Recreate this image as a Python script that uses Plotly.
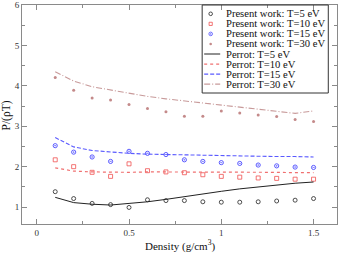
import plotly.graph_objects as go

density = [0.1, 0.2, 0.3, 0.4, 0.5, 0.6, 0.7, 0.8, 0.9, 1.0, 1.1, 1.2, 1.3, 1.4, 1.5]

present_T5 = [1.38, 1.21, 1.09, 1.06, 0.99, 1.18, 1.16, 1.16, 1.13, 1.12, 1.12, 1.13, 1.15, 1.17, 1.21]
present_T10 = [2.17, 2.00, 1.86, 1.76, 2.07, 1.90, 1.87, 1.85, 1.80, 1.76, 1.74, 1.72, 1.71, 1.69, 1.69]
present_T15 = [2.52, 2.36, 2.24, 2.13, 2.38, 2.33, 2.30, 2.17, 2.13, 2.10, 2.08, 2.04, 2.02, 1.99, 1.98]
present_T30 = [4.21, 3.89, 3.70, 3.65, 3.54, 3.44, 3.36, 3.25, 3.25, 3.38, 3.33, 3.28, 3.24, 3.17, 3.12]

perrot_T5 = [1.24, 1.11, 1.07, 1.05, 1.09, 1.13, 1.19, 1.26, 1.33, 1.39, 1.45, 1.50, 1.55, 1.59, 1.62]
perrot_T10 = [1.97, 1.89, 1.87, 1.86, 1.86, 1.87, 1.87, 1.87, 1.87, 1.87, 1.86, 1.86, 1.86, 1.85, 1.85]
perrot_T15 = [2.72, 2.49, 2.40, 2.36, 2.33, 2.31, 2.30, 2.29, 2.28, 2.28, 2.27, 2.26, 2.25, 2.25, 2.24]
perrot_T30 = [4.35, 4.12, 3.98, 3.90, 3.81, 3.74, 3.68, 3.63, 3.57, 3.52, 3.47, 3.42, 3.37, 3.32, 3.38]

x_tick_vals = [0, 0.5, 1, 1.5]
x_tick_text = ["0", "0.5", "1", "1.5"]
y_tick_vals = [1, 2, 3, 4, 5, 6]
y_tick_text = ["1", "2", "3", "4", "5", "6"]

present_names = ["Present work: T=5 eV", "Present work: T=10 eV",
                 "Present work: T=15 eV", "Present work: T=30 eV"]
perrot_names = ["Perrot: T=5 eV", "Perrot: T=10 eV", "Perrot: T=15 eV", "Perrot: T=30 eV"]

FONT = "Liberation Serif"
W, H = 338, 254
ML, MR, MT, MB = 22, 1.3, 5, 30
PW, PH = W - ML - MR, H - MT - MB

c5, c10, c15, c30 = "#222222", "#f05050", "#4a4aff", "#c48a8a"
lc10, lc15, lc30 = "#f07070", "#5a5aff", "#c89a9a"

fig = go.Figure()

present_series = [present_T5, present_T10, present_T15, present_T30]
present_styles = [
    dict(symbol="circle-open", color=c5, size=4, line=dict(width=0.8, color=c5)),
    dict(symbol="square-open", color=c10, size=4, line=dict(width=0.8, color=c10)),
    dict(symbol="circle-open-dot", color=c15, size=4.2, line=dict(width=0.9, color=c15)),
    dict(symbol="circle", color=c30, size=3, line=dict(width=0, color=c30)),
]
for vals, name, mk in zip(present_series, present_names, present_styles):
    fig.add_trace(go.Scatter(x=density, y=vals, mode="markers", name=name,
                             marker=mk, showlegend=False))

perrot_series = [perrot_T5, perrot_T10, perrot_T15, perrot_T30]
perrot_styles = [
    dict(color="#222222", width=1, dash="solid"),
    dict(color=lc10, width=1.2, dash="dot"),
    dict(color=lc15, width=1.1, dash="4px,2px"),
    dict(color=lc30, width=1.1, dash="6px,2px,1px,2px"),
]
for vals, name, ln in zip(perrot_series, perrot_names, perrot_styles):
    fig.add_trace(go.Scatter(x=density, y=vals, mode="lines", name=name,
                             line=ln, showlegend=False))

# ---- custom legend (box, samples, labels) ----
def px2x(px):
    return (px - ML) / PW

def py2y(py):
    return (MT + PH - py) / PH

shapes = []
annotations = []
bx0, bx1, by0, by1 = 202, 328, 5, 93
for (xa, ya, xb, yb) in [(bx0, by0, bx1, by0), (bx1, by0, bx1, by1),
                         (bx1, by1, bx0, by1), (bx0, by1, bx0, by0)]:
    shapes.append(dict(type="line", xref="paper", yref="paper",
                       x0=px2x(xa), y0=py2y(ya), x1=px2x(xb), y1=py2y(yb),
                       line=dict(color="#333333", width=1), layer="above"))
row_y = [13.8 + i * 10.05 for i in range(8)]
sym_x = 210.5
R = 1.8
for i, mk in enumerate(present_styles):
    yc = row_y[i]
    col = mk["color"]
    if mk["symbol"] == "square-open":
        r = 1.6
        shapes.append(dict(type="rect", xref="paper", yref="paper",
                           x0=px2x(sym_x - r), x1=px2x(sym_x + r),
                           y0=py2y(yc + r), y1=py2y(yc - r),
                           line=dict(color=col, width=0.8), layer="above"))
    elif mk["symbol"] == "circle":
        r = 1.3
        shapes.append(dict(type="circle", xref="paper", yref="paper",
                           x0=px2x(sym_x - r), x1=px2x(sym_x + r),
                           y0=py2y(yc + r), y1=py2y(yc - r),
                           line=dict(color=col, width=0), fillcolor=col, layer="above"))
    else:
        shapes.append(dict(type="circle", xref="paper", yref="paper",
                           x0=px2x(sym_x - R), x1=px2x(sym_x + R),
                           y0=py2y(yc + R), y1=py2y(yc - R),
                           line=dict(color=col, width=0.8), layer="above"))
        if mk["symbol"] == "circle-open-dot":
            r = 0.6
            shapes.append(dict(type="circle", xref="paper", yref="paper",
                               x0=px2x(sym_x - r), x1=px2x(sym_x + r),
                               y0=py2y(yc + r), y1=py2y(yc - r),
                               line=dict(color=col, width=0), fillcolor=col, layer="above"))
for j, ln in enumerate(perrot_styles):
    yc = py2y(row_y[4 + j])
    shapes.append(dict(type="line", xref="paper", yref="paper",
                       x0=px2x(204), x1=px2x(220), y0=yc, y1=yc,
                       line=dict(color=ln["color"], width=ln["width"], dash=ln["dash"]),
                       layer="above"))
for i, name in enumerate(present_names + perrot_names):
    annotations.append(dict(text=name, xref="paper", yref="paper",
                            x=px2x(223.5), y=py2y(row_y[i]), xanchor="left", yanchor="middle",
                            showarrow=False, font=dict(family=FONT, size=10.6, color="#111111")))

# axis titles
annotations.append(dict(text="Density (g/cm<sup>3</sup>)", xref="paper", yref="paper",
                        x=px2x(180), y=py2y(245), xanchor="center", yanchor="middle",
                        showarrow=False, font=dict(family=FONT, size=11, color="#111111")))
annotations.append(dict(text="P/(ρT)", xref="paper", yref="paper",
                        x=px2x(6.5), y=py2y(115), xanchor="center", yanchor="middle",
                        textangle=-90, showarrow=False,
                        font=dict(family=FONT, size=11.5, color="#111111")))

axis_common = dict(showgrid=False, zeroline=False, showline=True, linecolor="#8a8a8a",
                   linewidth=1, mirror="ticks", ticks="inside", ticklen=5, tickwidth=1,
                   tickcolor="#8a8a8a", ticklabeloverflow="allow",
                   tickfont=dict(family=FONT, size=9, color="#333333"))

fig.update_layout(
    width=W, height=H,
    margin=dict(l=ML, r=MR, t=MT, b=MB),
    paper_bgcolor="white", plot_bgcolor="white",
    showlegend=False,
    xaxis=dict(range=[-0.08, 1.627], tickvals=x_tick_vals, ticktext=x_tick_text,
               minor=dict(dtick=0.25, tick0=0, ticks="inside", ticklen=3,
                          tickcolor="#8a8a8a", tickwidth=1),
               **axis_common),
    yaxis=dict(range=[0.58, 6.004], tickvals=y_tick_vals, ticktext=y_tick_text,
               minor=dict(dtick=0.5, tick0=0, ticks="inside", ticklen=3,
                          tickcolor="#8a8a8a", tickwidth=1),
               **axis_common),
    shapes=shapes,
    annotations=annotations,
)

fig.write_html("out.html", config={"displayModeBar": False},
               post_script="document.body.style.margin='0';document.body.style.padding='0';")
